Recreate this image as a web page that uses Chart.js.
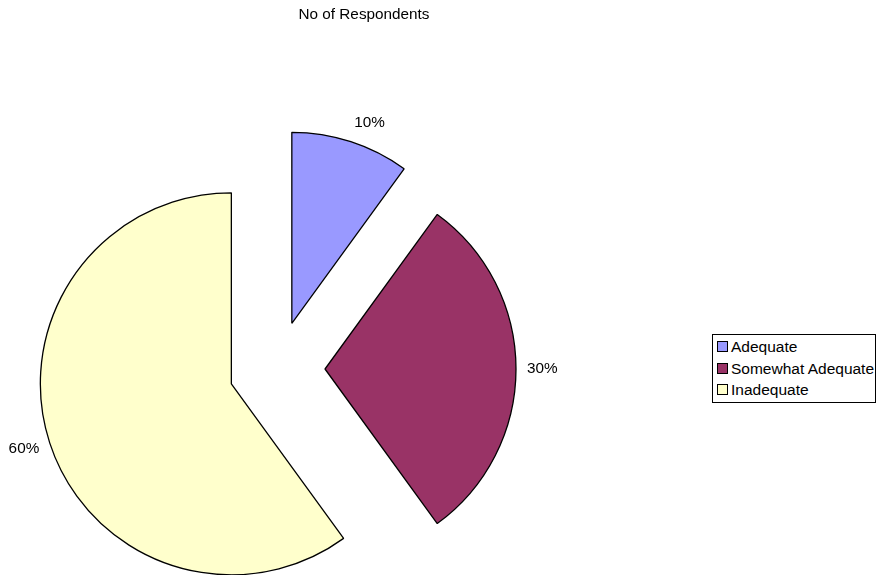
<!DOCTYPE html>
<html>
<head>
<meta charset="utf-8">
<script src="https://cdn.jsdelivr.net/npm/chart.js@4"></script>
<style>
  body { margin: 0; background: #fff; }
  #wrap { position: relative; width: 876px; height: 575px; font-family: "Liberation Sans", Arial, sans-serif; color: #000; }
  #pie { position: absolute; left: 0; top: 0; }
  #title { position: absolute; left: 0; top: 5px; width: 728px; text-align: center; font-size: 15.3px; line-height: 17px; }
  #legend { position: absolute; left: 712px; top: 334px; width: 164px; box-sizing: border-box; border: 1px solid #000;
            padding: 1px 0 1.5px 4px; font-size: 15.5px; line-height: 21.5px; background: #fff; }
  #legend .item { display: flex; align-items: center; white-space: nowrap; }
  #legend .swatch { width: 9px; height: 9px; border: 1px solid #000; margin-right: 3px; }
</style>
</head>
<body>
<div id="wrap">
  <canvas id="pie" width="876" height="575"></canvas>
  <div id="title"></div>
  <div id="legend"></div>
</div>
<script>
const chartTitle = 'No of Respondents'
const categories = ['Adequate', 'Somewhat Adequate', 'Inadequate']
const respondents = [10, 30, 60]
const sliceColors = ['#9999FF', '#993366', '#FFFFCC']

// pushes every slice out from the centre along its middle angle
const explode = {
  id: 'explode',
  afterDatasetsUpdate(chart, args, opts) {
    chart.getDatasetMeta(0).data.forEach(arc => {
      const mid = (arc.startAngle + arc.endAngle) / 2
      arc.x += Math.cos(mid) * opts.distance
      arc.y += Math.sin(mid) * opts.distance
    })
  }
}

// percentage labels just outside each slice
const pctLabels = {
  id: 'pctLabels',
  afterDatasetsDraw(chart, args, opts) {
    const { ctx } = chart
    const values = chart.data.datasets[0].data
    const total = values.reduce((a, b) => a + b, 0)
    ctx.save()
    ctx.font = opts.font
    ctx.fillStyle = opts.color
    ctx.textAlign = 'center'
    ctx.textBaseline = 'middle'
    chart.getDatasetMeta(0).data.forEach((arc, i) => {
      const mid = (arc.startAngle + arc.endAngle) / 2
      const cos = Math.cos(mid), sin = Math.sin(mid)
      const r = arc.outerRadius + opts.gap
      const text = Math.round(values[i] / total * 100) + '%'
      const w = ctx.measureText(text).width
      const dx = Math.abs(cos) < 0.05 ? 0 : Math.sign(cos) * w / 2
      const dy = sin * opts.lineHeight / 2
      ctx.fillText(text, arc.x + cos * r + dx, arc.y + sin * r + dy)
    })
    ctx.restore()
  }
}

new Chart(document.getElementById('pie'), {
  type: 'pie',
  data: {
    labels: categories,
    datasets: [{
      data: respondents,
      backgroundColor: sliceColors,
      borderColor: '#000',
      borderWidth: 1.3,
      hoverOffset: 0
    }]
  },
  options: {
    responsive: false,
    animation: false,
    events: [],
    radius: 191,
    layout: { padding: { left: 0, right: 322, top: 163, bottom: 0 } },
    plugins: {
      legend: { display: false },
      title: { display: false },
      tooltip: { enabled: false },
      explode: { distance: 48 },
      pctLabels: { font: '15.3px "Liberation Sans", Arial, sans-serif', color: '#000', gap: 11, lineHeight: 18 }
    }
  },
  plugins: [explode, pctLabels]
})

document.getElementById('title').textContent = chartTitle
const legend = document.getElementById('legend')
categories.forEach((name, i) => {
  const item = document.createElement('div')
  item.className = 'item'
  const swatch = document.createElement('span')
  swatch.className = 'swatch'
  swatch.style.background = sliceColors[i]
  item.appendChild(swatch)
  item.appendChild(document.createTextNode(name))
  legend.appendChild(item)
})
</script>
</body>
</html>
